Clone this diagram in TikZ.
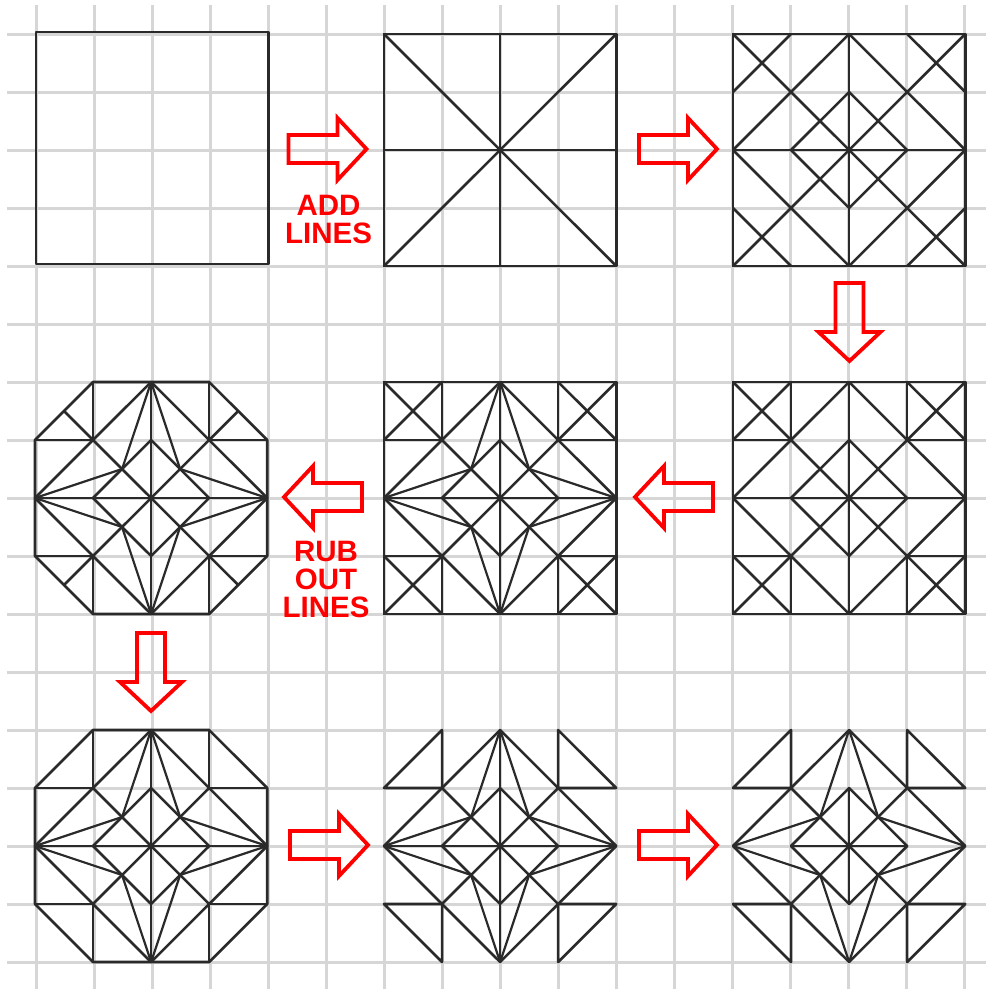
\documentclass[tikz,border=0pt]{standalone}
\usepackage{fontspec}
\setmainfont{Liberation Sans}
\definecolor{gridgrey}{HTML}{D6D6D6}
\definecolor{inkline}{HTML}{2A2A2A}
\tikzset{
  gridline/.style={draw=gridgrey,line width=3pt},
  ink/.style={draw=inkline,line width=2.6pt,line cap=round,line join=round},
  starline/.style={draw=inkline,line width=2.2pt,line cap=round,line join=round},
  blockarrow/.pic={\draw[draw=red,line width=3.8pt,line join=miter,miter limit=6]
    (0,0) -- (-29,-31) -- (-29,-14) -- (-78,-14) -- (-78,14) -- (-29,14) -- (-29,31) -- cycle;},
  redlabel/.style={text=red,font=\bfseries\fontsize{29.5}{28}\selectfont,align=center,inner sep=0pt},
  panel/.style={shift={#1},x=58.05pt,y=-58pt}
}
% line sets, in grid units of one 4 x 4 panel
\newcommand{\OuterSquare}{\draw[ink] (0,0) rectangle (4,4);}
\newcommand{\LongCross}{\draw[ink] (0,2) -- (4,2) (2,0) -- (2,4);}
\newcommand{\BigDiamond}{\draw[ink] (2,0) -- (4,2) -- (2,4) -- (0,2) -- cycle;}
\newcommand{\SmallDiamond}{\draw[ink] (2,1) -- (3,2) -- (2,3) -- (1,2) -- cycle;}
\newcommand{\LongDiagonals}{\draw[ink] (0,0) -- (4,4) (4,0) -- (0,4);}
\newcommand{\CornerCuts}{\draw[ink] (1,0) -- (0,1) (3,0) -- (4,1) (0,3) -- (1,4) (4,3) -- (3,4);}
\newcommand{\CornerSquares}{\draw[ink] (1,0) -- (1,1) -- (0,1) (3,0) -- (3,1) -- (4,1) (0,3) -- (1,3) -- (1,4) (4,3) -- (3,3) -- (3,4);}
\newcommand{\StarLines}{\draw[starline] (2,0) -- (1.5,1.5) -- (0,2) -- (1.5,2.5) -- (2,4) -- (2.5,2.5) -- (4,2) -- (2.5,1.5) -- cycle;}
\newcommand{\OctagonEdge}{\draw[ink] (1,0) -- (3,0) -- (4,1) -- (4,3) -- (3,4) -- (1,4) -- (0,3) -- (0,1) -- cycle;}
\begin{document}
\begin{tikzpicture}[x=1pt,y=-1pt]
\useasboundingbox (0,0) rectangle (986,989);
% background grid
\foreach \k in {0,...,16}{
  \draw[gridline] ({36+58.05*\k},5) -- ({36+58.05*\k},989);
  \draw[gridline] (7,{34+58*\k}) -- (986,{34+58*\k});
}
% panel 1
\begin{scope}[panel={(36,32)}]
  \OuterSquare
\end{scope}
% panel 2
\begin{scope}[panel={(384,34)}]
  \OuterSquare \LongCross \LongDiagonals
\end{scope}
% panel 3
\begin{scope}[panel={(733,34)}]
  \OuterSquare \LongCross \LongDiagonals \BigDiamond \SmallDiamond \CornerCuts
\end{scope}
% panel 4
\begin{scope}[panel={(733,382)}]
  \OuterSquare \LongCross \LongDiagonals \BigDiamond \SmallDiamond \CornerCuts \CornerSquares
\end{scope}
% panel 5
\begin{scope}[panel={(384,382)}]
  \OuterSquare \LongCross \LongDiagonals \BigDiamond \SmallDiamond \CornerCuts \CornerSquares \StarLines
\end{scope}
% panel 6
\begin{scope}[panel={(35,382)}]
  \OctagonEdge \LongCross \BigDiamond \SmallDiamond \CornerSquares \StarLines
  \draw[ink] (0.5,0.5) -- (3.5,3.5) (3.5,0.5) -- (0.5,3.5);
\end{scope}
% panel 7
\begin{scope}[panel={(35,730)}]
  \OctagonEdge \LongCross \BigDiamond \SmallDiamond \CornerSquares \StarLines
  \draw[ink] (1,1) -- (3,3) (3,1) -- (1,3);
\end{scope}
% panel 8
\begin{scope}[panel={(384,730)}]
  \LongCross \BigDiamond \SmallDiamond \StarLines
  \draw[ink] (1,1) -- (3,3) (3,1) -- (1,3);
  \draw[ink] (1,0) -- (1,1) -- (0,1) -- cycle (3,0) -- (3,1) -- (4,1) -- cycle
             (0,3) -- (1,3) -- (1,4) -- cycle (4,3) -- (3,3) -- (3,4) -- cycle;
\end{scope}
% panel 9
\begin{scope}[panel={(733,730)}]
  \BigDiamond \SmallDiamond \StarLines
  \draw[ink] (1,2) -- (3,2) (2,1) -- (2,3);
  \draw[ink] (1,1) -- (3,3) (3,1) -- (1,3);
  \draw[ink] (1,0) -- (1,1) -- (0,1) -- cycle (3,0) -- (3,1) -- (4,1) -- cycle
             (0,3) -- (1,3) -- (1,4) -- cycle (4,3) -- (3,3) -- (3,4) -- cycle;
\end{scope}
% arrows
\pic at (366.5,149) {blockarrow};
\pic at (717,149) {blockarrow};
\pic[rotate=-90] at (849.5,361) {blockarrow};
\pic[rotate=180] at (635,497) {blockarrow};
\pic[rotate=180] at (284,497) {blockarrow};
\pic[rotate=-90] at (151,711) {blockarrow};
\pic at (368,845) {blockarrow};
\pic at (717,845) {blockarrow};
% labels
\node[redlabel] (addlabel) at (328.5,219) {ADD\\LINES};
\node[redlabel] (rublabel) at (326,579) {RUB\\OUT\\LINES};
\end{tikzpicture}
\end{document}
